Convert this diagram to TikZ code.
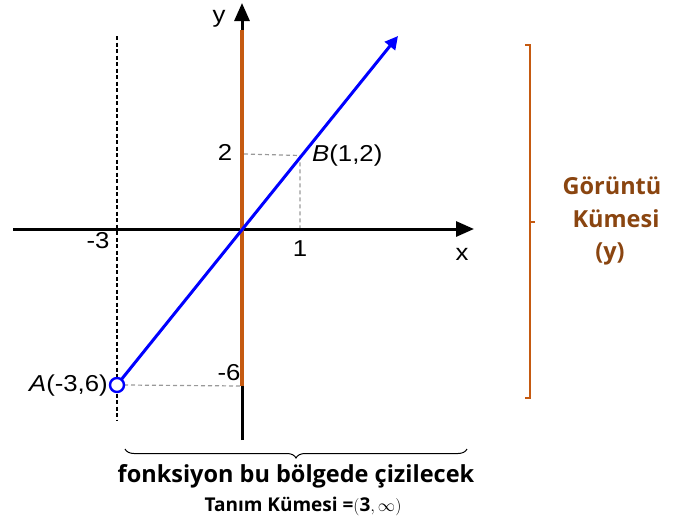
\documentclass[tikz,border=0pt]{standalone}
\usepackage{fontspec}
\setmainfont{Liberation Sans}
\newfontfamily\segoe{Open Sans}
\usetikzlibrary{arrows.meta,decorations.pathreplacing}
\definecolor{orng}{HTML}{C55A11}
\definecolor{brwn}{HTML}{8A4510}
\definecolor{dgray}{HTML}{999999}
\tikzset{
  axis/.style={line width=3pt,-{Triangle[length=18pt,width=15pt]}},
  lbl/.style={font=\fontsize{23}{26}\selectfont,inner sep=0pt},
  guide/.style={dgray,line width=1.2pt,dash pattern=on 4pt off 3pt},
  side/.style={brwn,font=\segoe\bfseries\fontsize{23.5}{28}\selectfont,inner sep=0pt},
}
\newcommand{\wide}[1]{\scalebox{1.12}[1]{#1}}
\begin{document}
\begin{tikzpicture}[x=1pt,y=-1pt]
\useasboundingbox (0,0) rectangle (682,525);
\coordinate (O) at (242,229);
\coordinate (xl) at (13,229);
\coordinate (xr) at (474,229);
\coordinate (yb) at (242,440);
\coordinate (yt) at (242,3);
\coordinate (ym6) at (242,386);
\coordinate (ytop) at (242,30);
\coordinate (A) at (117,385);
\coordinate (B) at (300,155.5);
\coordinate (C) at (398,36);
\coordinate (B2) at (244,154);
\coordinate (B1) at (300,229);
\coordinate (dvt) at (117,36);
\coordinate (dvb) at (117,420);
% dashed vertical line x=-3
\draw[line width=2pt,dash pattern=on 4pt off 2.5pt] (dvt) -- (dvb);
% guides
\draw[guide] (B2) -- (B) -- (B1);
\draw[guide] (A) ++(7,0) coordinate (A7) (A7) -- (ym6);
% axes
\draw[axis] (xl) -- (xr);
\draw[axis] (yb) -- (yt);
\draw[orng,line width=4pt] (ym6) -- (ytop);
% function
\draw[blue,line width=3pt,-{Triangle[length=13pt,width=13pt]}] (A) ++(4.3,-5.4) coordinate (As) (As) -- (C);
\node[circle,draw=blue,fill=white,line width=2.4pt,minimum size=14pt,inner sep=0pt] (Ac) at (A) {};
% labels
\node[lbl] (ylab) at (219,19) {\wide{y}};
\node[lbl] (xlab) at (462,254) {\wide{x}};
\node[lbl] (m3) at (98,241) {\wide{-3}};
\node[lbl] (one) at (300,249) {\wide{1}};
\node[lbl] (two) at (225,152) {\wide{2}};
\node[lbl] (m6) at (229,373) {\wide{-6}};
\node[lbl,anchor=west] (Blab) at (312,156) {\wide{\itshape B\upshape(1,2)}};
\node[lbl,anchor=east] (Alab) at (108,386) {\wide{\itshape A\upshape(-3,6)}};
% bottom brace
\coordinate (bl) at (125,449);
\coordinate (br) at (467,449);
\draw[line width=1pt,decorate,decoration={brace,mirror,amplitude=9pt}] (bl) -- (br);
\node[font=\segoe\bfseries\fontsize{23.5}{27}\selectfont,inner sep=0pt] (ftext) at (296,476) {fonksiyon bu bölgede çizilecek};
\node[font=\segoe\bfseries\fontsize{19}{22}\selectfont,inner sep=0pt] (ttext) at (303,506) {Tanım Kümesi =$\bigl(\textbf{3},\infty\bigr)$};
% right bracket
\coordinate (rt) at (530,45);
\coordinate (rb) at (530,398);
\coordinate (rm) at (530,222);
\draw[orng,line width=2.4pt] (525,45) -- (rt) -- (rb) -- (525,398);
\draw[orng,line width=2.4pt] (rm) -- (535,222);
\node[side] (g1) at (612,186) {Görüntü};
\node[side] (g2) at (616,219) {Kümesi};
\node[side] (g3) at (610,254) {(y)};
\end{tikzpicture}
\end{document}
